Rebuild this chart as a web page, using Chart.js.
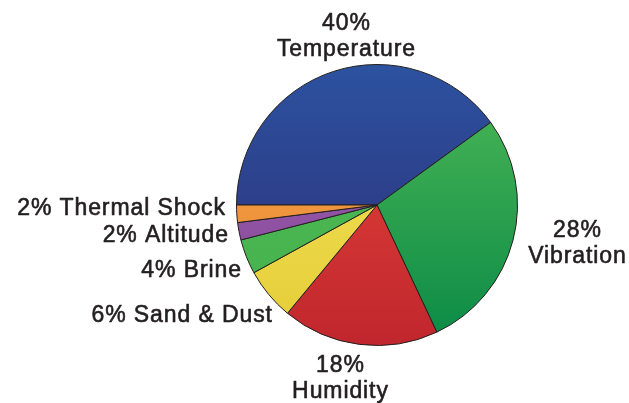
<!DOCTYPE html>
<html>
<head>
<meta charset="utf-8">
<script src="https://cdn.jsdelivr.net/npm/chart.js@4.4.1/dist/chart.umd.min.js"></script>
<style>
  html, body { margin: 0; padding: 0; background: #fff; }
  #wrap { width: 629px; height: 403px; position: relative; }
</style>
</head>
<body>
<div id="wrap"><canvas id="pieChart"></canvas></div>
<script>
// test categories and their share of failures (%)
const categories = ['Temperature', 'Vibration', 'Humidity', 'Sand & Dust', 'Brine', 'Altitude', 'Thermal Shock'];
const shares = [40, 28, 18, 6, 4, 2, 2];

// top / bottom colours of each slice's vertical gradient
const topColors = ['#2c52a0', '#4fb957', '#e9473b', '#f3e65e', '#4fba55', '#9c5fab', '#f4a24c'];
const bottomColors = ['#2e2c74', '#0a8a46', '#c0262d', '#e5cc36', '#45b14d', '#86479a', '#e98a2f'];

// where each label goes, relative to the pie centre
const labelSpots = [
  { dx: -31, dy: -175, align: 'center', twoLines: true },
  { dx: 200, dy: 32, align: 'center', twoLines: true },
  { dx: -37, dy: 167, align: 'center', twoLines: true },
  { dx: -105, dy: 117, align: 'right' },
  { dx: -136, dy: 72, align: 'right' },
  { dx: -149, dy: 37, align: 'right' },
  { dx: -152, dy: 10, align: 'right' }
];

function sliceGradient(context) {
  const chart = context.chart;
  const area = chart.chartArea;
  if (!area) return topColors[context.dataIndex];
  const g = chart.ctx.createLinearGradient(0, area.top, 0, area.bottom);
  g.addColorStop(0, topColors[context.dataIndex]);
  g.addColorStop(1, bottomColors[context.dataIndex]);
  return g;
}

// draws text a touch heavier than regular weight
function heavyText(ctx, text, x, y) {
  ctx.fillText(text, x, y);
  ctx.strokeText(text, x, y);
}

const outsideLabels = {
  id: 'outsideLabels',
  afterDraw(chart) {
    const ctx = chart.ctx;
    const arcs = chart.getDatasetMeta(0).data;
    const cx = arcs[0].x, cy = arcs[0].y;
    ctx.save();
    ctx.fillStyle = '#231f20';
    ctx.strokeStyle = '#231f20';
    ctx.lineWidth = 0.6;
    ctx.lineJoin = 'round';
    ctx.font = '23px "Liberation Sans", Arial, sans-serif';
    ctx.letterSpacing = '0.9px';
    ctx.textBaseline = 'alphabetic';
    categories.forEach((name, i) => {
      const spot = labelSpots[i];
      const pct = shares[i] + '%';
      ctx.textAlign = spot.align;
      // trailing letter spacing shifts right-aligned text, compensate
      const x = cx + spot.dx + (spot.align === 'right' ? 0.9 : 0.45);
      const y = cy + spot.dy;
      if (spot.twoLines) {
        heavyText(ctx, pct, x, y);
        heavyText(ctx, name, x, y + 26);
      } else {
        heavyText(ctx, pct + ' ' + name, x, y);
      }
    });
    ctx.restore();
  }
};

new Chart(document.getElementById('pieChart'), {
  type: 'pie',
  data: {
    labels: categories,
    datasets: [{
      data: shares,
      backgroundColor: sliceGradient,
      borderColor: '#231f20',
      borderWidth: 1
    }]
  },
  options: {
    responsive: true,
    maintainAspectRatio: false,
    animation: false,
    rotation: -90,
    layout: { padding: { top: 64, bottom: 57, left: 236, right: 111 } },
    plugins: {
      legend: { display: false },
      tooltip: { enabled: false }
    }
  },
  plugins: [outsideLabels]
});
</script>
</body>
</html>
